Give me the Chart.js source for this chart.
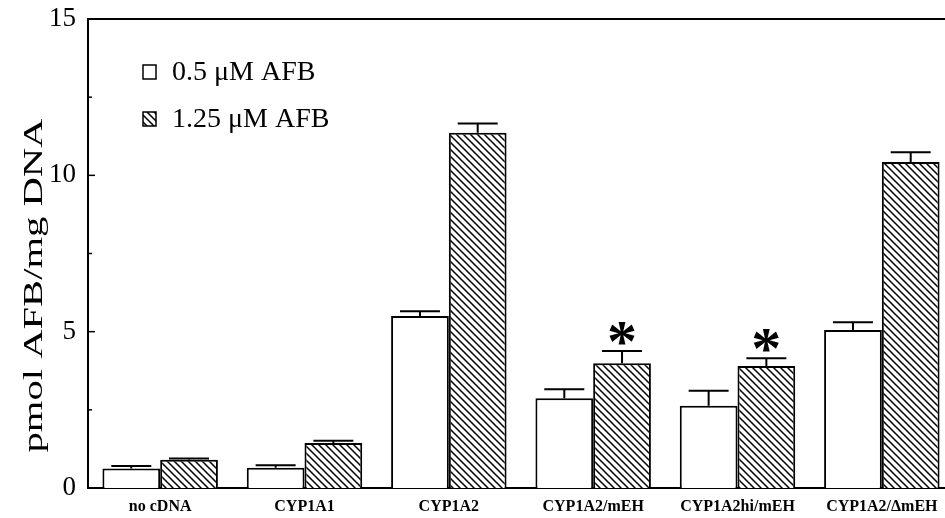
<!DOCTYPE html>
<html>
<head>
<meta charset="utf-8">
<script src="https://cdn.jsdelivr.net/npm/chart.js@4/dist/chart.umd.min.js"></script>
<style>
  html, body { margin: 0; padding: 0; background: #fff; overflow: hidden; }
  #wrap { width: 945px; height: 518px; overflow: hidden; }
</style>
</head>
<body>
<div id="wrap"><canvas id="chart" width="960" height="518"></canvas></div>
<script>
// Data
const categories = ['no cDNA', 'CYP1A1', 'CYP1A2', 'CYP1A2/mEH', 'CYP1A2hi/mEH', 'CYP1A2/\u0394mEH'];
const lowDose = [0.62, 0.65, 5.50, 2.87, 2.63, 5.05];      // 0.5 uM AFB
const lowDoseErr = [0.08, 0.08, 0.15, 0.29, 0.48, 0.25];
const highDose = [0.90, 1.44, 11.36, 3.99, 3.90, 10.43];   // 1.25 uM AFB
const highDoseErr = [0.04, 0.07, 0.30, 0.39, 0.25, 0.31];
const significant = [false, false, false, true, true, false]; // asterisk over high dose
const seriesLabels = ['0.5 \u03bcM AFB', '1.25 \u03bcM AFB'];
const yTicks = [0, 5, 10, 15];
const yTitle = 'pmol AFB/mg DNA';

const serif = '"Liberation Serif", "Times New Roman", serif';

// diagonal hatch "\\\\" like the printed figure
function makeHatch() {
  const size = 7;
  const c = document.createElement('canvas');
  c.width = size;
  c.height = size;
  const g = c.getContext('2d');
  g.fillStyle = '#fff';
  g.fillRect(0, 0, size, size);
  g.strokeStyle = '#000';
  g.lineWidth = 1.5;
  g.beginPath();
  g.moveTo(-1, -1); g.lineTo(size + 1, size + 1);
  g.moveTo(-1, size - 1); g.lineTo(1, size + 1);
  g.moveTo(size - 1, -1); g.lineTo(size + 1, 1);
  g.stroke();
  return g.createPattern(c, 'repeat');
}
const hatch = makeHatch();

// error bars (upward only), inward ticks, top frame line, asterisks, legend, y title
const extras = {
  id: 'extras',
  afterDatasetsDraw(chart) {
    const ctx = chart.ctx;
    const y = chart.scales.y;
    const area = chart.chartArea;
    const errs = [lowDoseErr, highDoseErr];
    ctx.save();
    ctx.strokeStyle = '#000';
    ctx.lineWidth = 2;
    chart.data.datasets.forEach((ds, di) => {
      chart.getDatasetMeta(di).data.forEach((bar, i) => {
        const top = y.getPixelForValue(ds.data[i]);
        const cap = y.getPixelForValue(ds.data[i] + errs[di][i]);
        ctx.beginPath();
        ctx.moveTo(bar.x, top);
        ctx.lineTo(bar.x, cap);
        ctx.moveTo(bar.x - 20, cap);
        ctx.lineTo(bar.x + 20, cap);
        ctx.stroke();
        if (di === 1 && significant[i]) {
          ctx.fillStyle = '#000';
          ctx.font = 'bold 60px ' + serif;
          ctx.textAlign = 'center';
          ctx.textBaseline = 'alphabetic';
          const m = ctx.measureText('*');
          // put the bottom of the glyph a few px above the cap
          ctx.fillText('*', bar.x, cap - 6 - m.actualBoundingBoxDescent);
        }
      });
    });

    // inward ticks on the y axis
    ctx.lineWidth = 1.5;
    for (let v = 0; v <= 15; v += 2.5) {
      const py = y.getPixelForValue(v);
      const len = v % 5 === 0 ? 7 : 4;
      ctx.beginPath();
      ctx.moveTo(area.left, py);
      ctx.lineTo(area.left + len, py);
      ctx.stroke();
    }

    // top frame line
    ctx.lineWidth = 2;
    ctx.beginPath();
    ctx.moveTo(area.left - 1, area.top);
    ctx.lineTo(chart.width, area.top);
    ctx.stroke();

    // legend
    const lx = area.left + 55;
    const ly = area.top + 53;
    const fills = ['#fff', hatch];
    ctx.font = '28px ' + serif;
    ctx.textAlign = 'left';
    ctx.textBaseline = 'middle';
    seriesLabels.forEach((lab, k) => {
      const yy = ly + k * 47;
      ctx.fillStyle = fills[k];
      ctx.fillRect(lx, yy - 7, 13, 14);
      ctx.lineWidth = 1.5;
      ctx.strokeRect(lx, yy - 7, 13, 14);
      ctx.fillStyle = '#000';
      ctx.fillText(lab, lx + 29, yy + 1);
    });

    // y axis title: the scanned figure has it stretched along its length
    ctx.save();
    ctx.translate(area.left - 46, (area.top + area.bottom) / 2 + 32);
    ctx.rotate(-Math.PI / 2);
    ctx.scale(1.45, 1);
    ctx.font = '28px ' + serif;
    ctx.textAlign = 'center';
    ctx.textBaseline = 'alphabetic';
    ctx.fillStyle = '#000';
    ctx.fillText(yTitle, 0, 0);
    ctx.restore();

    ctx.restore();
  }
};

new Chart(document.getElementById('chart'), {
  type: 'bar',
  data: {
    labels: categories,
    datasets: [
      {
        label: seriesLabels[0],
        data: lowDose,
        backgroundColor: '#fff',
        borderColor: '#000',
        borderWidth: 2,
        borderSkipped: 'bottom'
      },
      {
        label: seriesLabels[1],
        data: highDose,
        backgroundColor: hatch,
        borderColor: '#000',
        borderWidth: 2,
        borderSkipped: 'bottom'
      }
    ]
  },
  options: {
    responsive: false,
    animation: false,
    layout: { padding: { top: 19, right: 6, left: 16, bottom: 0 } },
    datasets: { bar: { categoryPercentage: 0.8, barPercentage: 1.0 } },
    plugins: { legend: { display: false }, tooltip: { enabled: false } },
    scales: {
      x: {
        grid: { display: false, drawTicks: false },
        border: { display: true, color: '#000', width: 2 },
        ticks: {
          color: '#000',
          padding: 9,
          font: { family: serif, size: 16, weight: 'bold' },
          maxRotation: 0,
          autoSkip: false
        },
        afterFit(scale) {
          scale.height = 30;
          scale.paddingLeft = 0;
          scale.paddingRight = 0;
        }
      },
      y: {
        min: 0,
        max: 15,
        afterBuildTicks(scale) { scale.ticks = yTicks.map(v => ({ value: v })); },
        grid: { display: false, drawTicks: false },
        border: { display: true, color: '#000', width: 2 },
        ticks: {
          color: '#000',
          padding: 12,
          font: { family: serif, size: 27 }
        },
        afterFit(scale) {
          scale.width = 72;
          scale.paddingTop = 0;
          scale.paddingBottom = 0;
        }
      }
    }
  },
  plugins: [extras]
});
</script>
</body>
</html>
